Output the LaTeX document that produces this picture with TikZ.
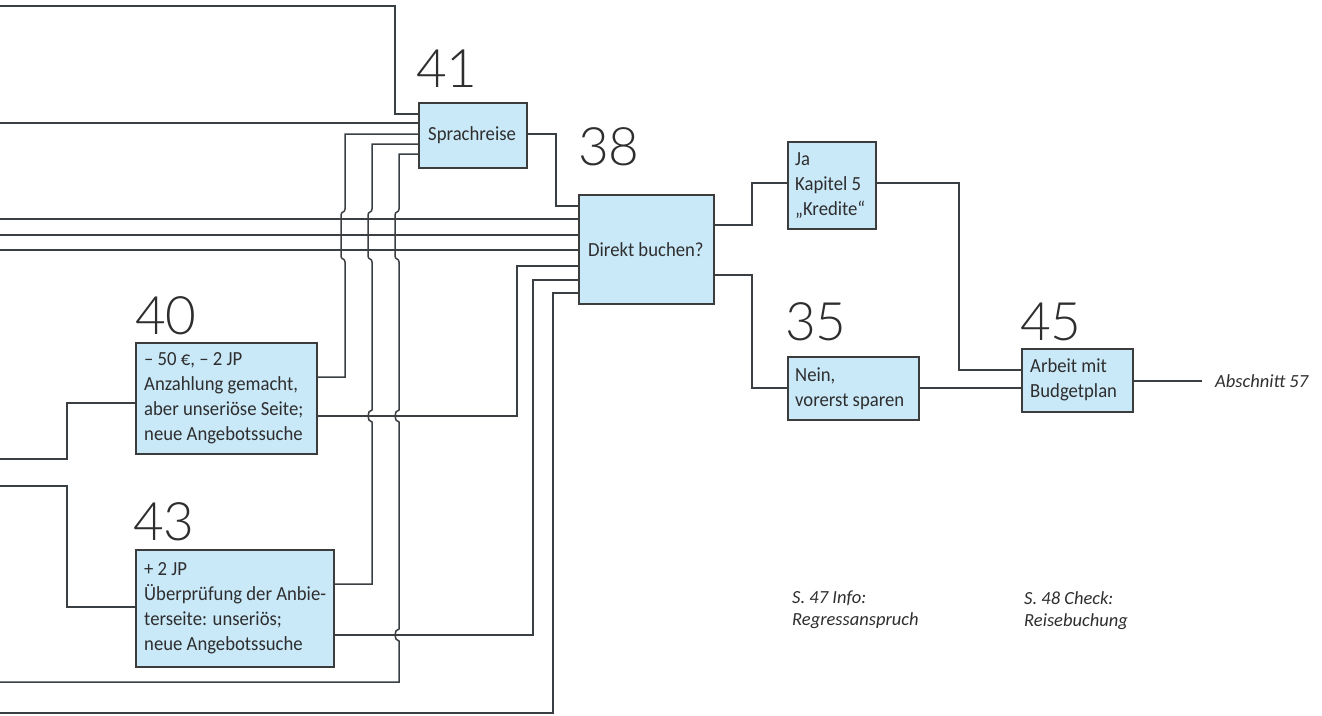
\documentclass[tikz,border=0pt]{standalone}
\usepackage{fontspec}
\setmainfont[FakeStretch=0.935]{Carlito}
\newfontfamily\notefont{Carlito}
\IfFontExistsTF{Lato Light}{\newfontfamily\numfont{Lato Light}}{\newfontfamily\numfont{Carlito}}
\definecolor{boxfill}{HTML}{C9E8F8}
\definecolor{borderc}{HTML}{3C3C3C}
\definecolor{linec}{HTML}{3A3F44}
\definecolor{txtc}{HTML}{2E2E2E}
\begin{document}
\begin{tikzpicture}[x=1pt,y=-1pt,
  conn/.style={draw=linec, line width=1.5pt},
  box/.style={draw=borderc, fill=boxfill, line width=1.5pt, inner sep=0pt, anchor=north west},
  btxt/.style={font=\fontsize{20}{25}\selectfont, text=txtc, align=left, inner sep=0pt, anchor=west},
  numlbl/.style={font=\numfont\fontsize{53}{60}\selectfont, text=txtc, inner sep=0pt, anchor=base west},
  note/.style={font=\notefont\fontsize{18.5}{22}\selectfont\itshape, text=txtc, align=left, inner sep=0pt}]
\useasboundingbox (0,0) rectangle (1322,715);

% boxes
\node[box, minimum width=108pt, minimum height=65pt] (b41) at (418,102) {};
\node[box, minimum width=135pt, minimum height=109pt] (b38) at (578,194) {};
\node[box, minimum width=181pt, minimum height=111pt] (b40) at (135,342) {};
\node[box, minimum width=198pt, minimum height=117pt] (b43) at (135,549) {};
\node[box, minimum width=88pt, minimum height=87pt] (bja) at (787,141) {};
\node[box, minimum width=131pt, minimum height=63pt] (bnein) at (787,356) {};
\node[box, minimum width=111pt, minimum height=63pt] (b45) at (1021,348) {};

% box texts
\node[btxt] (t41) at ([xshift=10pt]b41.west) {Sprachreise};
\node[btxt] (t38) at ([xshift=10pt]b38.west) {Direkt buchen?};
\node[btxt] (t40) at ([xshift=9pt]b40.west) {– 50 €, – 2 JP\\Anzahlung gemacht,\\aber unseriöse Seite;\\neue Angebotssuche};
\node[btxt] (t43) at ([xshift=9pt]b43.west) {+ 2 JP\\Überprüfung der Anbie-\\terseite: unseriös;\\neue Angebotssuche};
\node[btxt] (tja) at ([xshift=8pt]bja.west) {Ja\\Kapitel 5\\„Kredite“};
\node[btxt] (tnein) at ([xshift=8pt]bnein.west) {Nein,\\vorerst sparen};
\node[btxt] (t45) at ([xshift=9pt]b45.west) {Arbeit mit\\Budgetplan};

% number labels
\node[numlbl] (n41) at (416,87) {41};
\node[numlbl] (n38) at (578,165) {38};
\node[numlbl] (n40) at (135,334) {40};
\node[numlbl] (n43) at (133,540) {43};
\node[numlbl] (n35) at (785,340) {35};
\node[numlbl] (n45) at (1020,340) {45};

% notes
\node[note, anchor=base west] (abs) at (1215,387) {Abschnitt 57};
\node[note, anchor=north west] (s47) at (792,591) {S. 47 Info:\\Regressanspruch};
\node[note, anchor=north west] (s48) at (1024,591) {S. 48 Check:\\Reisebuchung};

% free ends
\coordinate (L6) at (0,6);
\coordinate (L123) at (0,123);
\coordinate (L219) at (0,219);
\coordinate (L235) at (0,235);
\coordinate (L250) at (0,250);
\coordinate (L459) at (0,459);
\coordinate (L486) at (0,486);
\coordinate (L682) at (0,682);
\coordinate (L713) at (0,713);
\coordinate (absend) at (1202,381);

% connectors into Sprachreise
\draw[conn] (L6) -- (395,6) -- (395,114) -- (b41.west |- 0,114);
\draw[conn] (L123) -- (b41.west |- 0,123);
\draw[conn] (b41.west |- 0,134) -- (345,134) -- (345,209)
  .. controls (345,213) and (341,211) .. (341,215) -- (341,256)
  .. controls (341,260) and (345,258) .. (345,262) -- (345,377) -- (b40.east |- 0,377);
\draw[conn] (b41.west |- 0,144) -- (372,144) -- (372,209)
  .. controls (372,213) and (368,211) .. (368,215) -- (368,256)
  .. controls (368,260) and (372,258) .. (372,262) -- (372,410)
  .. controls (366.7,410) and (366.7,422) .. (372,422) -- (372,584) -- (b43.east |- 0,584);
\draw[conn] (b41.west |- 0,154) -- (399,154) -- (399,209)
  .. controls (399,213) and (395,211) .. (395,215) -- (395,256)
  .. controls (395,260) and (399,258) .. (399,262) -- (399,410)
  .. controls (393.7,410) and (393.7,422) .. (399,422) -- (399,629)
  .. controls (393.7,629) and (393.7,641) .. (399,641) -- (399,682) -- (L682);

% connectors into Direkt buchen
\draw[conn] (b41.east |- 0,134) -- (556,134) -- (556,206) -- (b38.west |- 0,206);
\draw[conn] (L219) -- (b38.west |- 0,219);
\draw[conn] (L235) -- (b38.west |- 0,235);
\draw[conn] (L250) -- (b38.west |- 0,250);
\draw[conn] (b40.east |- 0,416) -- (517,416) -- (517,266) -- (b38.west |- 0,266);
\draw[conn] (b43.east |- 0,635) -- (533,635) -- (533,280) -- (b38.west |- 0,280);
\draw[conn] (L713) -- (553,713) -- (553,293) -- (b38.west |- 0,293);

% connectors into 40 and 43
\draw[conn] (L459) -- (67,459) -- (67,403) -- (b40.west |- 0,403);
\draw[conn] (L486) -- (67,486) -- (67,607) -- (b43.west |- 0,607);

% right part
\draw[conn] (b38.east |- 0,225) -- (752,225) -- (752,183) -- (bja.west |- 0,183);
\draw[conn] (b38.east |- 0,275) -- (752,275) -- (752,388) -- (bnein.west |- 0,388);
\draw[conn] (bja.east |- 0,183) -- (959,183) -- (959,370) -- (b45.west |- 0,370);
\draw[conn] (bnein.east |- 0,388) -- (b45.west |- 0,388);
\draw[conn] (b45.east |- 0,381) -- (absend);
\end{tikzpicture}
\end{document}
